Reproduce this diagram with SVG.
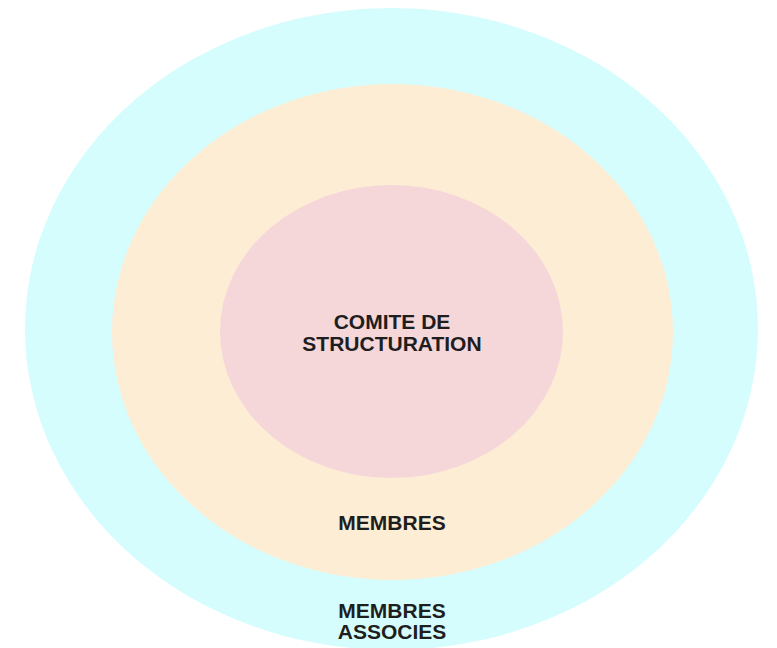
<svg xmlns="http://www.w3.org/2000/svg" width="777" height="648" viewBox="0 0 777 648">
<style>
.lbl{font-family:"Liberation Sans",Arial,sans-serif;font-weight:bold;font-size:21px;fill:#1e1e1e;text-anchor:middle}
</style>
<rect width="777" height="648" fill="#ffffff"/>
<g id="membres-associes">
<ellipse cx="391.5" cy="329" rx="366.5" ry="321" fill="#D6FDFD"/>
<text class="lbl" x="392" y="618">MEMBRES</text>
<text class="lbl" x="392" y="639">ASSOCIES</text>
</g>
<g id="membres">
<ellipse cx="392.5" cy="332" rx="280.5" ry="248" fill="#FCEDD4"/>
<text class="lbl" x="392" y="530">MEMBRES</text>
</g>
<g id="comite">
<ellipse cx="391.5" cy="331.5" rx="171.5" ry="146.5" fill="#F5D7DA"/>
<text class="lbl" x="392" y="328.5">COMITE DE</text>
<text class="lbl" x="392" y="350.5">STRUCTURATION</text>
</g>
<g id="connectors"/>
</svg>
